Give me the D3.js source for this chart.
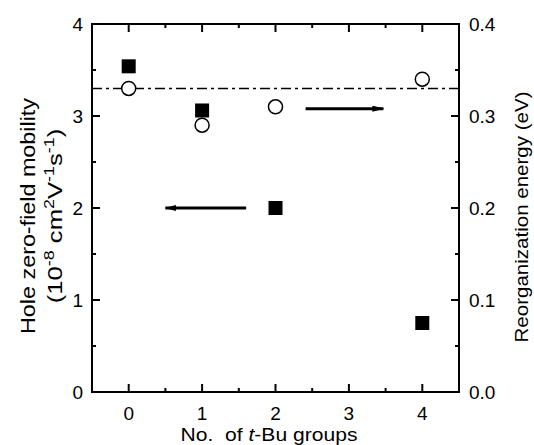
<!DOCTYPE html>
<html>
<head>
<meta charset="utf-8">
<script src="https://cdn.jsdelivr.net/npm/d3@7"></script>
<style>
  body { margin: 0; background: #fff; }
  svg text { font-family: "Liberation Sans", Arial, sans-serif; fill: #000; }
</style>
</head>
<body>
<svg id="chart" width="534" height="445"></svg>
<script>
// number of t-Bu groups
var tbuGroups = [0, 1, 2, 4];
// hole zero-field mobility (1e-8 cm2/Vs), left axis
var mobility = [3.54, 3.06, 2.0, 0.75];
// reorganization energy (eV), right axis
var reorgEnergy = [0.33, 0.29, 0.31, 0.34];
// dash-dot reference line (eV)
var refEnergy = 0.33;

var xTicks = [0, 1, 2, 3, 4];
var yLeftTicks = [0, 1, 2, 3, 4];
var yRightTicks = [0, 0.1, 0.2, 0.3, 0.4];

var margin = {left: 92, right: 75, top: 24, bottom: 53};
var W = 534, H = 445;

var svg = d3.select("#chart");
var defs = svg.append("defs");
defs.append("marker")
  .attr("id", "head")
  .attr("viewBox", "0 0 12 6")
  .attr("refX", 11).attr("refY", 3)
  .attr("markerWidth", 12).attr("markerHeight", 6)
  .attr("markerUnits", "userSpaceOnUse")
  .attr("orient", "auto")
  .append("path").attr("d", "M0,0 L12,3 L0,6 Z").attr("fill", "#000");

var x = d3.scaleLinear().domain([-0.5, 4.5]).range([margin.left, W - margin.right]);
var yL = d3.scaleLinear().domain([0, 4]).range([H - margin.bottom, margin.top]);
var yR = d3.scaleLinear().domain([0, 0.4]).range([H - margin.bottom, margin.top]);

var x0 = x.range()[0], x1 = x.range()[1];
var y0 = yL.range()[0], y1 = yL.range()[1];

// minor ticks at halves
var xMinor = [0.5, 1.5, 2.5, 3.5];
var yLMinor = [0.5, 1.5, 2.5, 3.5];
var yRMinor = [0.05, 0.15, 0.25, 0.35];

var axes = svg.append("g").attr("stroke", "#000").attr("stroke-width", 2);
function tickset(vals, len, fn) {
  vals.forEach(function(v){ fn(v, len); });
}
// bottom & top
function xtick(v, len){
  axes.append("line").attr("x1", x(v)).attr("x2", x(v)).attr("y1", y0).attr("y2", y0 - len);
  axes.append("line").attr("x1", x(v)).attr("x2", x(v)).attr("y1", y1).attr("y2", y1 + len);
}
tickset(xTicks, 8, xtick);
tickset(xMinor, 4, xtick);
// left
function ltick(v, len){
  axes.append("line").attr("x1", x0).attr("x2", x0 + len).attr("y1", yL(v)).attr("y2", yL(v));
}
tickset(yLeftTicks, 8, ltick);
tickset(yLMinor, 4, ltick);
// right
function rtick(v, len){
  axes.append("line").attr("x1", x1).attr("x2", x1 - len).attr("y1", yR(v)).attr("y2", yR(v));
}
tickset(yRightTicks, 8, rtick);
tickset(yRMinor, 4, rtick);
axes.append("rect").attr("x", x0).attr("y", y1).attr("width", x1 - x0).attr("height", y0 - y1)
  .attr("fill", "none");

// tick labels
var fs = 19;
svg.append("g").selectAll("text").data(xTicks).enter().append("text")
  .attr("x", function(d){ return x(d); }).attr("y", 420)
  .attr("text-anchor", "middle").attr("font-size", fs).text(function(d){ return d; });
svg.append("g").selectAll("text").data(yLeftTicks).enter().append("text")
  .attr("x", 83).attr("y", function(d){ return yL(d) + 7; })
  .attr("text-anchor", "end").attr("font-size", fs).text(function(d){ return d; });
svg.append("g").selectAll("text").data(yRightTicks).enter().append("text")
  .attr("x", 469).attr("y", function(d){ return yR(d) + 7; })
  .attr("text-anchor", "start").attr("font-size", fs).text(function(d){ return d.toFixed(1); });

// axis titles
var xt = svg.append("text").attr("x", 269).attr("y", 441).attr("text-anchor", "middle")
  .attr("font-size", 19).attr("textLength", 177).attr("lengthAdjust", "spacingAndGlyphs");
xt.append("tspan").text("No.\u00a0\u00a0of ");
xt.append("tspan").attr("font-style", "italic").text("t");
xt.append("tspan").text("-Bu groups");

svg.append("text").attr("transform", "translate(35,216) rotate(-90)")
  .attr("text-anchor", "middle").attr("font-size", 20)
  .attr("textLength", 236).attr("lengthAdjust", "spacingAndGlyphs")
  .text("Hole zero-field mobility");

// second line: stretched along its length like the source figure
var l2 = svg.append("text").attr("transform", "translate(62,216) rotate(-90) scale(1.28,1)")
  .attr("text-anchor", "middle").attr("font-size", 20);
l2.append("tspan").text("(10");
l2.append("tspan").attr("dy", -8).attr("font-size", 14).text("-8");
l2.append("tspan").attr("dy", 8).text(" cm");
l2.append("tspan").attr("dy", -8).attr("font-size", 14).text("2");
l2.append("tspan").attr("dy", 8).text("V");
l2.append("tspan").attr("dy", -8).attr("font-size", 14).text("-1");
l2.append("tspan").attr("dy", 8).text("s");
l2.append("tspan").attr("dy", -8).attr("font-size", 14).text("-1");
l2.append("tspan").attr("dy", 8).text(")");

svg.append("text").attr("transform", "translate(528,217) rotate(-90)")
  .attr("text-anchor", "middle").attr("font-size", 19)
  .attr("textLength", 251).attr("lengthAdjust", "spacingAndGlyphs")
  .text("Reorganization energy (eV)");

// reference dash-dot line
svg.append("line").attr("x1", x0).attr("x2", x1).attr("y1", yR(refEnergy)).attr("y2", yR(refEnergy))
  .attr("stroke", "#000").attr("stroke-width", 1.5).attr("stroke-dasharray", "10,4,3,4");

// arrows
svg.append("line").attr("x1", x(1.6)).attr("x2", x(0.5)).attr("y1", yL(2.0)).attr("y2", yL(2.0))
  .attr("stroke", "#000").attr("stroke-width", 3).attr("marker-end", "url(#head)");
svg.append("line").attr("x1", x(2.41)).attr("x2", x(3.47)).attr("y1", yR(0.308)).attr("y2", yR(0.308))
  .attr("stroke", "#000").attr("stroke-width", 3).attr("marker-end", "url(#head)");

// mobility squares
var sq = 14;
svg.append("g").selectAll("rect").data(tbuGroups).enter().append("rect")
  .attr("x", function(d){ return x(d) - sq / 2; })
  .attr("y", function(d, i){ return yL(mobility[i]) - sq / 2; })
  .attr("width", sq).attr("height", sq).attr("fill", "#000");

// energy circles
svg.append("g").selectAll("circle").data(tbuGroups).enter().append("circle")
  .attr("cx", function(d){ return x(d); })
  .attr("cy", function(d, i){ return yR(reorgEnergy[i]); })
  .attr("r", 7).attr("fill", "#fff").attr("stroke", "#000").attr("stroke-width", 1.5);
</script>
</body>
</html>
